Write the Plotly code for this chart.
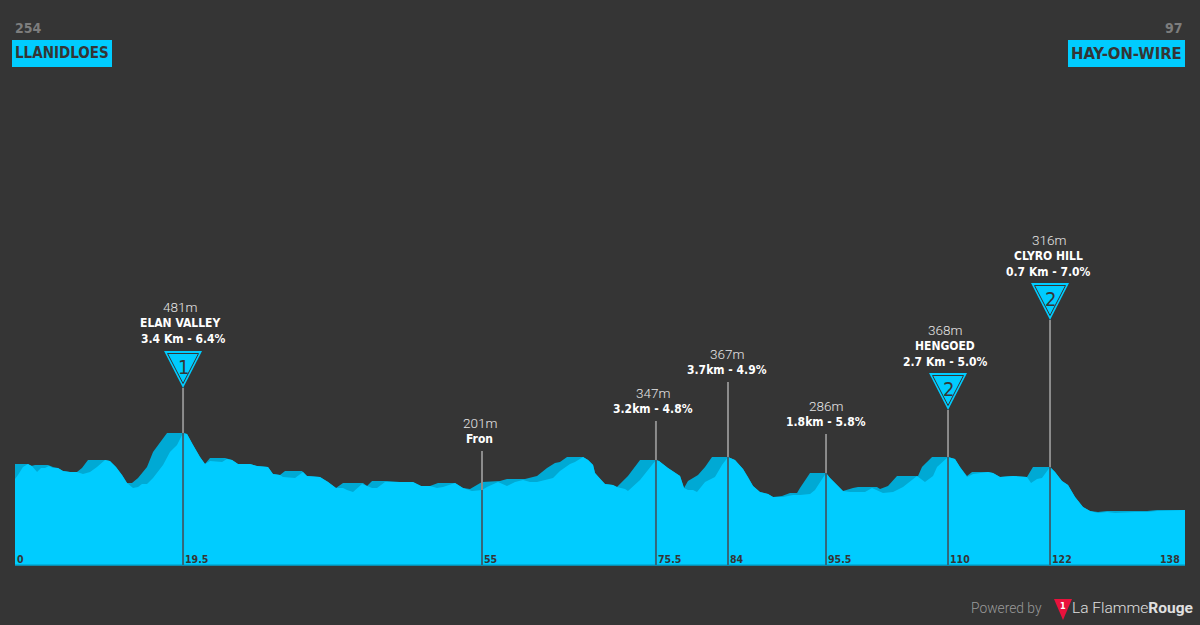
import plotly.graph_objects as go

# Relative height above the baseline; the axis is hidden.
front_km = [0,.35,.94,1.53,2.0,2.6,3.07,3.54,4.01,4.48,5.07,5.66,6.49,7.31,8.02,8.85,9.67,10.62,11.2,11.91,12.62,13.21,13.92,14.51,14.98,15.57,16.28,17.46,18.28,19.11,19.82,20.29,21.0,21.82,22.41,23.0,24.42,25.0,25.6,26.3,27.72,28.54,29.84,30.43,31.26,31.61,33.03,33.97,34.44,35.97,36.92,37.86,38.69,39.16,39.87,40.93,41.52,42.11,42.7,43.64,45.41,46.94,47.89,48.95,49.77,50.48,51.9,52.84,53.9,55.08,55.67,56.97,58.03,58.98,59.92,60.74,61.57,63.46,64.28,65.46,66.05,67.0,67.59,68.18,68.41,69.0,69.59,70.53,71.0,71.95,72.3,73.72,74.66,75.6,75.96,77.02,78.44,78.91,79.38,79.97,80.44,81.39,82.56,83.39,84.1,84.92,85.87,86.46,87.05,87.87,88.82,89.41,90.59,91.76,92.59,93.77,94.36,95.66,96.13,96.72,97.66,98.49,99.31,100.26,101.08,102.38,103.56,104.74,106.39,107.33,108.28,108.75,110.05,110.87,111.46,112.29,113.0,113.82,114.76,115.35,116.18,117.71,119.36,119.84,120.55,121.13,122.08,122.67,123.49,124.2,125.03,125.97,126.8,127.74,128.8,129.75,131.28,132.1,133.52,134.7,138]
front_h = [86,90,98,101,99,93,97,97,99,97,97,94,93,93,91,93,98,105,104,98,90,82,77,78,81,81,87,100,113,120,132,131,120,108,101,104,103,106,105,101,101,99,98,91,90,88,87,93,89,88,83,77,77,75,73,81,79,77,77,83,83,83,79,79,77,78,82,77,74,75,78,83,79,83,85,83,83,87,94,101,103,108,105,100,92,86,81,80,78,76,74,85,95,105,104,97,89,77,75,75,73,83,88,100,108,105,96,88,79,73,71,68,68,70,70,71,75,92,87,82,74,73,73,73,77,72,73,78,89,83,89,98,108,106,98,88,91,92,93,92,88,89,88,82,86,87,98,93,84,80,68,58,54,52,53,52,53,53,53,54,55]
back_km = [0,1.53,1.89,2.36,3.89,4.48,5.07,5.66,6.49,7.31,7.9,8.61,10.62,11.2,11.91,12.62,13.21,13.8,14.51,15.57,16.28,16.87,17.93,19.82,20.29,21.0,21.82,22.41,23.0,24.77,25.6,26.3,27.72,28.54,29.84,30.43,31.26,31.85,33.85,34.44,35.97,36.92,37.86,38.69,41.05,41.52,42.11,43.88,45.41,46.94,47.89,48.95,49.89,51.9,52.84,53.67,55.08,57.2,58.03,60.15,61.57,62.75,63.69,64.28,65.11,67.0,67.59,68.18,68.41,69.0,69.59,70.53,71.0,72.3,73.72,75.6,75.96,77.02,78.44,78.91,79.38,80.56,81.39,82.21,84.1,84.92,85.87,86.46,87.05,87.87,88.82,89.41,90.47,91.41,92.24,92.59,93.77,95.66,96.13,96.72,97.66,98.84,99.43,101.67,102.03,102.97,104.03,106.51,106.98,108.16,110.05,110.87,111.46,112.29,112.88,114.76,115.35,116.18,117.71,119.36,120.07,122.08,122.67,123.49,124.2,125.03,125.97,126.8,127.74,128.8,131.28,133.52,134.7,138]
back_h = [101,101,99,100,100,98,97,94,93,93,97,105,105,104,98,90,82,82,87,98,113,120,132,132,131,120,108,101,107,107,105,101,101,99,98,91,90,94,94,89,88,83,77,82,82,79,84,84,83,83,79,79,82,82,77,76,83,84,86,86,89,97,102,103,108,108,105,100,92,86,81,80,78,89,105,105,104,97,89,77,84,90,98,108,108,105,96,88,79,73,71,68,69,72,72,77,92,92,87,82,74,77,78,78,76,79,89,89,98,108,108,106,98,89,93,93,92,88,89,88,98,98,93,84,80,68,58,54,53,54,54,54,55,55]

climb_km = [19.82, 55.08, 75.6, 84.1, 95.66, 110.05, 122.08]
climb_line_top = [177, 114, 144, 183, 131, 155, 245]
split_h = [132, 75, 105, 108, 92, 108, 98]
km_labels = ["19.5", "55", "75.5", "84", "95.5", "110", "122"]

CYAN = "#00ccff"
BACK = "#00a9d4"
BG = "#353535"
GREY = "#8c8c8c"
DARK_LINE = "#35677a"
NARROW = "'DejaVu Sans Condensed', 'Roboto Condensed', Roboto, sans-serif"
THIN = "Roboto"

fig = go.Figure()
fig.add_trace(go.Scatter(x=back_km, y=back_h, mode="lines", line=dict(width=0, color=BACK), fill="tozeroy", fillcolor=BACK))
fig.add_trace(go.Scatter(x=front_km, y=front_h, mode="lines", line=dict(width=0, color=CYAN), fill="tozeroy", fillcolor=CYAN))
fig.add_trace(go.Scatter(x=[0, 138], y=[0, 0], mode="lines", line=dict(width=1.5, color=BACK)))
for km, top, sp in zip(climb_km, climb_line_top, split_h):
    fig.add_trace(go.Scatter(x=[km, km], y=[sp, top], mode="lines", line=dict(width=2, color=GREY)))
    fig.add_trace(go.Scatter(x=[km, km], y=[0, sp], mode="lines", line=dict(width=2, color=DARK_LINE)))

ann = []
def text(x, y, s, font, size, color, anchor="center", xref="x", weight=400, **kw):
    ann.append(dict(x=x, y=y, xref=xref, yref="y", text=s, showarrow=False, xanchor=anchor, yanchor="middle",
                    font=dict(family=font, size=size, color=color, weight=weight), **kw))

# km labels
for km, lab in zip(climb_km, km_labels):
    text(km, 6, lab, NARROW, 10.5, BG, "left", weight=700)
text(0, 6, "0", NARROW, 10.5, BG, "left", weight=700)
text(138, 6, "138", NARROW, 10.5, BG, "right", weight=700, xshift=-3)

labels = [
    (19.5, [(258, "481m", True), (242, "ELAN VALLEY", False)]),
    (19.82, [(226, "3.4 Km - 6.4%", False)]),
    (54.8, [(142, "201m", True), (126, "Fron", False)]),
    (75.2, [(172, "347m", True), (156, "3.2km - 4.8%", False)]),
    (84.0, [(211, "367m", True), (195, "3.7km - 4.9%", False)]),
    (95.6, [(159, "286m", True), (143, "1.8km - 5.8%", False)]),
    (109.7, [(235, "368m", True), (219, "HENGOED", False), (203, "2.7 Km - 5.0%", False)]),
    (121.9, [(325, "316m", True), (309, "CLYRO HILL", False), (293, "0.7 Km - 7.0%", False)]),
]
for km, rows in labels:
    for h, s, thin in rows:
        if thin:
            text(km, h, s, THIN, 13.5, "#e6e6e6", weight=300)
        else:
            text(km, h, s, NARROW, 12, "#ffffff", weight=700)

shapes = []
cats = [(19.82, 177, "1"), (110.05, 155, "2"), (122.08, 245, "2")]
for km, tip, cat in cats:
    base = dict(type="path", xref="x", yref="y", xsizemode="pixel", ysizemode="pixel", xanchor=km, yanchor=tip, layer="above")
    shapes.append(dict(base, path="M-19,37 L19,37 L0,0 Z", fillcolor=CYAN, line=dict(width=0)))
    shapes.append(dict(base, path="M-15.5,34.5 L15.5,34.5 L0,4.5 Z", fillcolor=CYAN, line=dict(width=1, color=BG)))
    text(km, tip + 21, cat, NARROW, 20, BG)

# start / finish
text(-0.25, 537, "254", NARROW, 14, "#7d7d7d", "left", weight=700)
text(138, 537, "97", NARROW, 14, "#7d7d7d", "right", weight=700)
for x0, x1, place, a, lab, sz in [(12, 112, -0.2, "left", "LLANIDLOES", 15), (1068, 1185, 137.9, "right", "HAY-ON-WIRE", 16.5)]:
    shapes.append(dict(type="rect", xref="paper", yref="paper", x0=x0/1200, x1=x1/1200, y0=1-67/625, y1=1-40/625,
                       fillcolor=CYAN, line=dict(width=0), layer="below"))
    text(place, 512, lab, NARROW, sz, BG, a, weight=700)

# footer
ann.append(dict(x=1044/1200, y=1-608/625, xref="paper", yref="paper", text="Powered by", showarrow=False, xanchor="right",
                yanchor="middle", font=dict(family=THIN, size=13.8, color="#9a9a9a", weight=300)))
ann.append(dict(x=1195/1200, y=1-608/625, xref="paper", yref="paper", text="La Flamme<b>Rouge</b>", showarrow=False, xanchor="right",
                yanchor="middle", font=dict(family=THIN, size=15.5, color="#e0e0e0", weight=300)))
ann.append(dict(x=1063/1200, y=1-606/625, xref="paper", yref="paper", text="<b>1</b>", showarrow=False, xanchor="center",
                yanchor="middle", font=dict(family=NARROW, size=9, color="#ffffff")))
shapes.append(dict(type="path", xref="paper", yref="paper", layer="above",
                   path=f"M{1054/1200},{1-599/625} L{1072/1200},{1-599/625} L{1063/1200},{1-620/625} Z",
                   fillcolor="#e8123c", line=dict(width=0)))

px_per_km = 1170 / 138
fig.update_layout(
    width=1200, height=625, margin=dict(l=0, r=0, t=0, b=0, pad=0), showlegend=False,
    paper_bgcolor=BG, plot_bgcolor=BG, hovermode=False,
    xaxis=dict(visible=False, range=[-15 / px_per_km, 1185 / px_per_km], fixedrange=True),
    yaxis=dict(visible=False, range=[-60, 565], fixedrange=True),
    annotations=ann, shapes=shapes,
)
fig.write_html("out.html", config=dict(displayModeBar=False),
               post_script="document.body.style.margin='0';document.body.style.overflow='hidden';document.body.style.background='#353535';")
